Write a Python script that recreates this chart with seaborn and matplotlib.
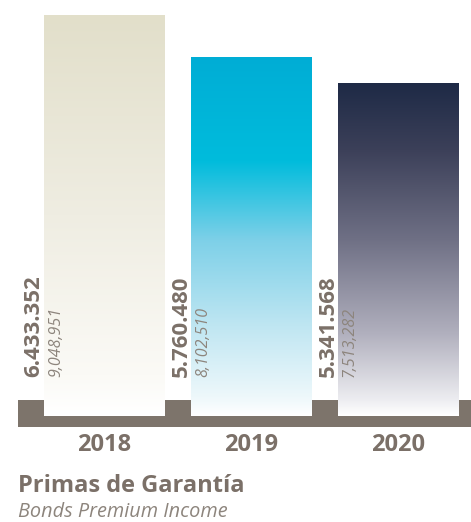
import numpy as np
import pandas as pd
import matplotlib
matplotlib.use("Agg")
import matplotlib.pyplot as plt
from matplotlib.colors import LinearSegmentedColormap
import seaborn as sns

# Data
years = ["2018", "2019", "2020"]
premiums = [6433352, 5760480, 5341568]
premium_labels = ["6.433.352", "5.760.480", "5.341.568"]
usd_labels = ["9,048,951", "8,102,510", "7,513,282"]

# Vertical gradient per bar (position 0 = bottom, 1 = top)
gradients = [
    [(0.0, "#ffffff"), (0.1, "#fbfaf6"), (0.5, "#efede2"), (1.0, "#e2dfca")],
    [(0.0, "#ffffff"), (0.05, "#eef8fb"), (0.25, "#bfe6f2"), (0.49, "#7dd0e8"),
     (0.71, "#00bcdc"), (1.0, "#00add5")],
    [(0.0, "#ffffff"), (0.05, "#ececf0"), (0.25, "#b0afbd"), (0.53, "#6f7085"),
     (0.8, "#3c4059"), (1.0, "#1e2a46")],
]

TEXT = "#7b7068"
TEXT_LIGHT = "#8d857d"
BASE = "#7d746b"

sns.set_theme(style="white")
plt.rcParams["font.family"] = ["Open Sans", "DejaVu Sans"]

W, H = 471, 522
fig = plt.figure(figsize=(W / 100, H / 100), dpi=100)

# Pixel geometry of the plotting area
px_per_unit = 147.0            # distance between category centres
x0_px = 104.5                  # centre of first category
left_px, right_px = 18, 471
zero_px, top_px = 416, 15      # baseline and top of tallest bar
bottom_px = 427                # bottom of base band
scale = (zero_px - top_px) / premiums[0]   # px per value unit

ax = fig.add_axes([left_px / W, 1 - bottom_px / H,
                   (right_px - left_px) / W, bottom_px / H])
xlim = ((left_px - x0_px) / px_per_unit, (right_px - x0_px) / px_per_unit)
ymin = -(bottom_px - zero_px) / scale
ymax = zero_px / scale

df = pd.DataFrame({"year": years, "premium": premiums})
sns.barplot(data=df, x="year", y="premium", ax=ax, width=121 / 147,
            color="white", linewidth=0, zorder=2)
bars = list(ax.patches)

# Brown base band with short posts between the bars
post_h = 16 / scale
ax.axhspan(ymin, post_h, color=BASE, zorder=1, lw=0)

# Gradient fills clipped to each bar
for patch, stops in zip(bars, gradients):
    cmap = LinearSegmentedColormap.from_list("g", stops)
    bx, by = patch.get_x(), patch.get_y()
    bw, bh = patch.get_width(), patch.get_height()
    grad = np.linspace(1, 0, 256).reshape(-1, 1)
    im = ax.imshow(grad, cmap=cmap, vmin=0, vmax=1, aspect="auto",
                   extent=[bx, bx + bw, by, by + bh], zorder=3,
                   interpolation="bilinear")
    im.set_clip_path(patch)

ax.set_xlim(*xlim)
ax.set_ylim(ymin, ymax)

# Value labels
label_y = (zero_px - 377) / scale
for i, patch in enumerate(bars):
    bx = patch.get_x()
    ax.text(bx - 10 / px_per_unit, label_y, premium_labels[i], rotation=90,
            ha="center", va="bottom", fontsize=16, fontweight="bold",
            color=TEXT, zorder=5)
    ax.text(bx + 12 / px_per_unit, label_y, usd_labels[i], rotation=90,
            ha="center", va="bottom", fontsize=11.5, style="italic",
            color=TEXT_LIGHT, zorder=5)

ax.set_xlabel("")
ax.set_ylabel("")
ax.set_yticks([])
ax.tick_params(axis="x", length=0, pad=4, labelsize=17, labelcolor=TEXT)
for t in ax.get_xticklabels():
    t.set_fontweight("bold")
for s in ax.spines.values():
    s.set_visible(False)
ax.set_facecolor("none")

fig.text(18 / W, 1 - 492 / H, "Primas de Garantía", fontsize=17,
         fontweight="bold", color=TEXT, ha="left", va="baseline")
fig.text(18 / W, 1 - 517 / H, "Bonds Premium Income", fontsize=14.3,
         style="italic", color=TEXT_LIGHT, ha="left", va="baseline")

fig.savefig("out.png", dpi=100, facecolor="white")
